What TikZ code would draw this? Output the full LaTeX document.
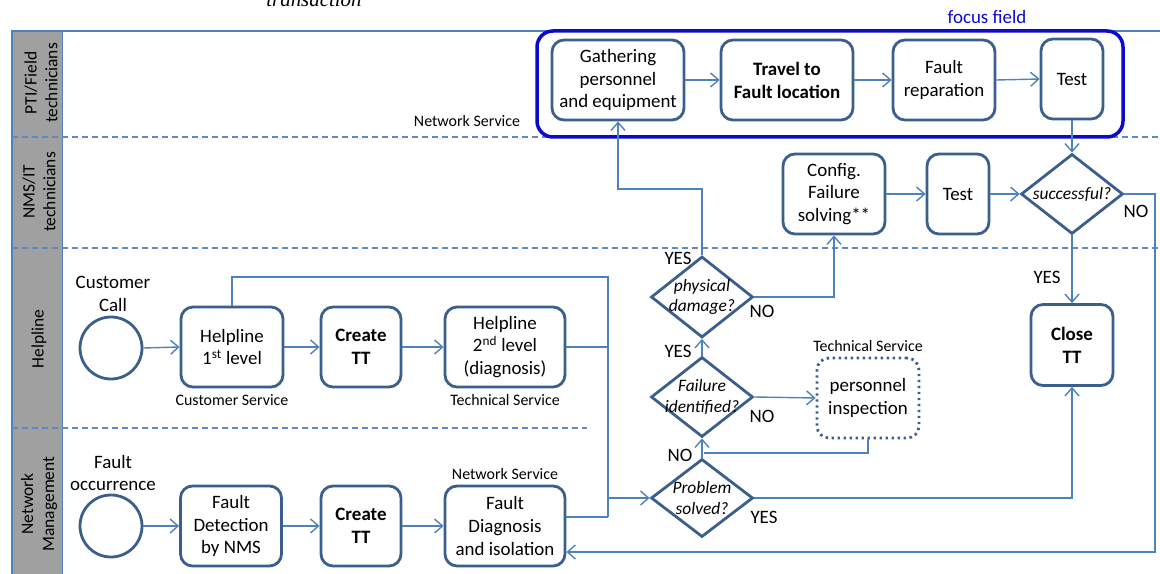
\documentclass[tikz,border=0pt]{standalone}
\usepackage{fontspec}
\setmainfont{Carlito}
\newfontfamily\captionserif{Liberation Serif}
\usetikzlibrary{arrows.meta,shapes.geometric,calc}
\definecolor{flow}{HTML}{4F81BD}
\definecolor{boxc}{HTML}{3B5F8D}
\definecolor{lanec}{HTML}{5B8AC4}
\definecolor{focusc}{HTML}{0A0ACC}
\definecolor{headc}{HTML}{A0A0A0}
\newcommand{\txt}{\fontsize{19}{23}\selectfont}
\newcommand{\smalltxt}{\fontsize{16}{19}\selectfont}
\newcommand{\lanetxt}{\fontsize{17.5}{21}\selectfont}
\newcommand{\dectxt}{\fontsize{17.5}{20.5}\selectfont\itshape}
\tikzset{
  lane/.style={draw=lanec, line width=1.3bp, dash pattern=on 6bp off 4bp},
  box/.style={draw=boxc, line width=2.8bp, rounded corners=12bp, fill=white,
    align=center, inner sep=0pt, minimum height=80bp, font=\txt},
  boldbox/.style={box, font=\txt\bfseries},
  checkbox/.style={box, dash pattern=on 2.4bp off 3.6bp},
  dec/.style={diamond, draw=boxc, line width=2.8bp, fill=white, inner sep=0pt,
    minimum width=102bp, minimum height=81bp},
  dtext/.style={align=center, inner sep=0pt, font=\dectxt},
  start/.style={circle, draw=boxc, line width=2.8bp, fill=white,
    minimum size=62bp, inner sep=0pt},
  conn/.style={draw=flow, line width=1.4bp, -{Straight Barb[length=8bp,width=14bp]}},
  link/.style={draw=flow, line width=1.4bp},
  yn/.style={inner sep=0pt, font=\txt},
  note/.style={inner sep=0pt, font=\smalltxt},
  lanelabel/.style={rotate=90, align=center, inner sep=0pt, font=\lanetxt},
}
\begin{document}
\begin{tikzpicture}[x=1bp, y=-1bp]
\useasboundingbox (0,0) rectangle (1160,574);

% pool header and lane borders
\fill[headc] (12,31) rectangle (62,580);
\draw[flow, line width=1bp] (62,31) -- (62,580);
\draw[flow, line width=1.3bp] (12,580) -- (12,31) -- (1160,31);
\draw[lane] (12,137) -- (1160,137);
\draw[lane] (12,248) -- (1160,248);
\draw[lane] (12,428) -- (587,428);

\node[lanelabel] (l1) at (41,83) {PTI/Field\\technicians};
\node[lanelabel] (l2) at (39,192) {NMS/IT\\technicians};
\node[lanelabel] (l3) at (39,339) {Helpline};
\node[lanelabel] (l4) at (39,504) {Network\\Management};

\node[anchor=base, inner sep=0pt, font=\captionserif\itshape\fontsize{21}{24}\selectfont]
  (cap) at (314,7) {transaction};

% focus field frame
\node[draw=focusc, line width=3.5bp, rounded corners=16bp,
  minimum width=586bp, minimum height=106bp, inner sep=0pt] (focus) at (830,84) {};
\node[inner sep=0pt, font=\txt, text=focusc] (focuslbl) at (987,17) {focus field};
\node[note] (ns1) at (467,121) {Network Service};

% field technicians
\node[box, minimum width=132bp] (gat) at (618,80) {Gathering\\personnel\\and equipment};
\node[boldbox, minimum width=132bp] (trav) at (787,80) {Travel to\\Fault location};
\node[box, minimum width=102bp] (rep) at (944,80) {Fault\\reparation};
\node[box, minimum width=62bp] (test1) at (1072,79) {Test};

% NMS / IT technicians
\node[box, minimum width=102bp] (conf) at (834,194) {Config.\\Failure\\solving**};
\node[box, minimum width=62bp] (test2) at (958,194) {Test};
\node[dec, minimum height=80bp, label={[dtext]center:{successful?}}] (succ) at (1072,194) {};

% helpline
\node[start] (cc) at (111,348) {};
\node[inner sep=0pt, align=center, font=\txt] (cclbl) at (113,294) {Customer\\Call};
\node[box, minimum width=102bp] (hl1) at (232,347) {Helpline\\1\textsuperscript{st} level};
\node[note] (cs) at (232,400) {Customer Service};
\node[boldbox, minimum width=80bp] (ctt1) at (361,347) {Create\\TT};
\node[box, minimum width=120bp] (hl2) at (505,347) {Helpline\\2\textsuperscript{nd} level\\(diagnosis)};
\node[note] (ts1) at (505,400) {Technical Service};

\node[dec, label={[dtext]center:{physical\\damage?}}] (phys) at (702,297) {};
\node[dec, minimum height=80bp, label={[dtext]center:{Failure\\identified?}}] (fail) at (702,397) {};
\node[checkbox, minimum width=102bp] (insp) at (868,398) {personnel\\inspection};
\node[note] (ts2) at (868,346) {Technical Service};
\node[boldbox, minimum width=82bp, minimum height=81bp] (close) at (1072,345) {Close\\TT};

% network management
\node[start] (fo) at (111,526) {};
\node[inner sep=0pt, align=center, font=\txt] (folbl) at (113,473) {Fault\\occurrence};
\node[box, minimum width=101bp] (fd) at (231,526) {Fault\\Detection\\by NMS};
\node[boldbox, minimum width=80bp] (ctt2) at (361,526) {Create\\TT};
\node[box, minimum width=120bp] (fdi) at (505,526) {Fault\\Diagnosis\\and isolation};
\node[note] (ns2) at (505,474) {Network Service};
\node[dec, minimum height=78bp, label={[dtext]center:{Problem\\solved?}}] (ps) at (702,498) {};

% bend points
\coordinate (busTop) at (608,277);
\coordinate (fdiOut) at ([yshift=9bp]fdi.east);
\coordinate (fdiIn) at ([yshift=-26bp]fdi.east);
\coordinate (busBot) at (busTop |- fdiOut);
\coordinate (gatTurn) at (0,189);
\coordinate (rightRail) at (1155,0);
\coordinate (inspJoin) at (704,453);

% sequence flows
\draw[conn] (cc.east) -- (hl1.west);
\draw[conn] (hl1.east) -- (ctt1.west);
\draw[conn] (ctt1.east) -- (hl2.west);
\draw[conn] (fo.east) -- (fd.west);
\draw[conn] (fd.east) -- (ctt2.west);
\draw[conn] (ctt2.east) -- (fdi.west);
\draw[conn] (gat.east) -- (trav.west);
\draw[conn] (trav.east) -- (rep.west);
\draw[conn] (rep.east) -- (test1.west);
\draw[conn] (test1.south) -- (succ.north);
\draw[conn] (conf.east) -- (test2.west);
\draw[conn] (test2.east) -- (succ.west);
\draw[conn] (succ.south) -- (close.north);
\draw[conn] (succ.east) -- (succ.east -| rightRail) |- (fdiIn);

\draw[link] (hl1.north) |- (busTop) -- (busBot);
\draw[link] (hl2.east) -- (hl2.east -| busTop);
\draw[link] (fdiOut) -- (busBot);
\draw[conn] (ps.west -| busTop) -- (ps.west);

\draw[conn] (phys.north) -- (phys.north |- gatTurn) -| (gat.south);
\draw[conn] (phys.east) -| (conf.south);
\draw[conn] (fail.north) -- (phys.south);
\draw[conn] (fail.east) -- (insp.west);
\draw[conn] (ps.north) -- (fail.south);
\draw[link] (insp.south) |- (inspJoin);
\draw[conn] (ps.east) -| (close.south);

% decision labels
\node[yn] (y1) at (678,258) {YES};
\node[yn] (n1) at (762,311) {NO};
\node[yn] (y2) at (678,351) {YES};
\node[yn] (n2) at (762,416) {NO};
\node[yn] (n3) at (680,455) {NO};
\node[yn] (y3) at (764,517) {YES};
\node[yn] (y4) at (1047,277) {YES};
\node[yn] (n4) at (1136,211) {NO};
\end{tikzpicture}
\end{document}
